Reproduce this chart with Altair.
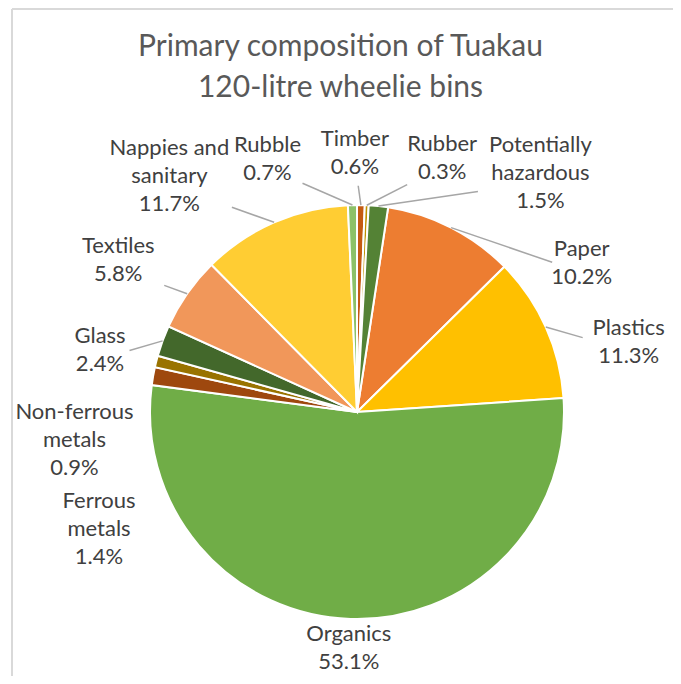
import math
import altair as alt
import pandas as pd

# ---------------- data ----------------
categories = ["Paper", "Plastics", "Organics", "Ferrous metals", "Non-ferrous metals",
              "Glass", "Textiles", "Nappies and sanitary", "Rubble", "Timber",
              "Rubber", "Potentially hazardous"]
shares = [10.2, 11.3, 53.1, 1.4, 0.9, 2.4, 5.8, 11.7, 0.7, 0.6, 0.3, 1.5]
label_names = ["Paper", "Plastics", "Organics", "Ferrous\nmetals", "Non-ferrous\nmetals",
               "Glass", "Textiles", "Nappies and\nsanitary", "Rubble", "Timber",
               "Rubber", "Potentially\nhazardous"]
colors = ["#ED7D31", "#FFC000", "#70AD47", "#9E480E", "#997300", "#43682B",
          "#F1975A", "#FFCD33", "#8CC168", "#C55A11", "#BF9000", "#548235"]
title_lines = ["Primary composition of Tuakau", "120-litre wheelie bins"]

# ---------------- layout / style ----------------
W, H = 665, 558
TOP = 110
CX, CY = 349, 294
R = 207
FS = 22
LH = 28
CHAR_W = 11
GAP = 24
MIN_SEP = 19.0
ROTATE = -1.0
TXT_OFF = 9          # rendered block centre sits this far below the computed anchor
no_leader = {"Organics", "Ferrous metals", "Non-ferrous metals"}

total = sum(shares)
start_deg = 360.0 * sum(shares[-3:]) / total

mids = []
cum = 0.0
for s in shares:
    mids.append((start_deg + (cum + s / 2) / total * 360.0) % 360.0)
    cum += s

# label spreading (isotonic min-gap on the circle)
order = sorted(range(len(mids)), key=lambda i: mids[i])
gaps = []
for k in range(len(order)):
    a = mids[order[k]]
    b = mids[order[(k + 1) % len(order)]]
    gaps.append(((b - a) % 360.0, k))
_, kmax = max(gaps)
seq = [order[(kmax + 1 + j) % len(order)] for j in range(len(order))]
ang = []
prev = None
for i in seq:
    a = mids[i]
    if prev is not None:
        while a < prev:
            a += 360.0
    ang.append(a)
    prev = a
bvals = [a - j * MIN_SEP for j, a in enumerate(ang)]
blocks = []
for j, v in enumerate(bvals):
    blocks.append([v, 1])
    while len(blocks) > 1 and blocks[-2][0] > blocks[-1][0]:
        v2, n2 = blocks.pop()
        v1, n1 = blocks.pop()
        blocks.append([(v1 * n1 + v2 * n2) / (n1 + n2), n1 + n2])
fit = []
for v, n in blocks:
    fit += [v] * n
label_ang = {}
for j, i in enumerate(seq):
    pos = fit[j] + j * MIN_SEP
    moved = abs(pos - ang[j]) > 0.5
    label_ang[i] = (pos + (ROTATE if moved else 0.0)) % 360.0

rows, leaders = [], []
for i, cat in enumerate(categories):
    lines = label_names[i].split("\n") + [f"{shares[i]:.1f}%"]
    n = len(lines)
    w = max(len(t) for t in lines) * CHAR_W / 2
    h = n * LH / 2
    th = math.radians(label_ang[i])
    r = R + GAP + abs(w * math.sin(th)) + abs(h * math.cos(th))
    bx = CX + r * math.sin(th)
    by = CY - r * math.cos(th)
    by = min(by, H - 14 - (n - 1) * LH / 2)
    bx = min(max(bx, w + 6), W - w)
    rows.append({"cat": cat, "text": "\n".join(lines), "lx": bx,
                 "ly": by - (n - 1) * LH / 2})
    if cat in no_leader:
        continue
    m = math.radians(mids[i])
    px, py = CX + R * math.sin(m), CY - R * math.cos(m)
    cy = by + TXT_OFF
    dx, dy = px - bx, py - cy
    t = min((w + 2) / abs(dx) if dx else 1e9, (h - 4) / abs(dy) if dy else 1e9)
    if t < 1:
        leaders.append({"x": bx + t * dx, "y": cy + t * dy, "x2": px, "y2": py})

pie_df = pd.DataFrame({"cat": categories, "share": shares, "idx": list(range(len(categories)))})
lab_df = pd.DataFrame(rows)
lead_df = pd.DataFrame(leaders)
title_df = pd.DataFrame({"t": ["\n".join(title_lines)]})

pie = alt.Chart(pie_df).mark_arc(outerRadius=R, stroke="white", strokeWidth=2).encode(
    theta=alt.Theta("share:Q", stack=True,
                    scale=alt.Scale(range=[math.radians(start_deg), math.radians(start_deg) + 2 * math.pi])),
    color=alt.Color("cat:N", scale=alt.Scale(domain=categories, range=colors), legend=None),
    order=alt.Order("idx:Q"),
    x=alt.value(CX), y=alt.value(CY),
)

lead = alt.Chart(lead_df).mark_rule(color="#A6A6A6", strokeWidth=1.5).encode(
    x=alt.X("x:Q", scale=None, axis=None), y=alt.Y("y:Q", scale=None, axis=None),
    x2="x2:Q", y2="y2:Q",
)

labels = alt.Chart(lab_df).mark_text(
    font="Lato", fontSize=FS, color="#404040", lineBreak="\n", lineHeight=LH,
    align="center", baseline="middle",
).encode(
    x=alt.X("lx:Q", scale=None, axis=None), y=alt.Y("ly:Q", scale=None, axis=None),
    text="text:N",
)

title = alt.Chart(title_df).mark_text(
    font="Lato", fontSize=30, color="#595959", lineBreak="\n", lineHeight=41,
    align="center", baseline="middle",
).encode(x=alt.value(W / 2), y=alt.value(-TOP + 39), text="t:N")

border_h = alt.Chart(pie_df).mark_rule(color="#D9D9D9", strokeWidth=2).encode(
    x=alt.value(4), x2=alt.value(W + 20), y=alt.value(-TOP + 1))
border_v = alt.Chart(pie_df).mark_rule(color="#D9D9D9", strokeWidth=2).encode(
    x=alt.value(4), y=alt.value(-TOP + 1), y2=alt.value(H + 20))

chart = alt.layer(border_h, border_v, pie, lead, labels, title).properties(
    width=W, height=H,
    autosize=alt.AutoSizeParams(type="none"),
    padding={"left": 0, "top": TOP, "right": 0, "bottom": 0},
).configure_view(stroke=None)

chart.save("out.html", embed_options={"renderer": "svg", "actions": False})
